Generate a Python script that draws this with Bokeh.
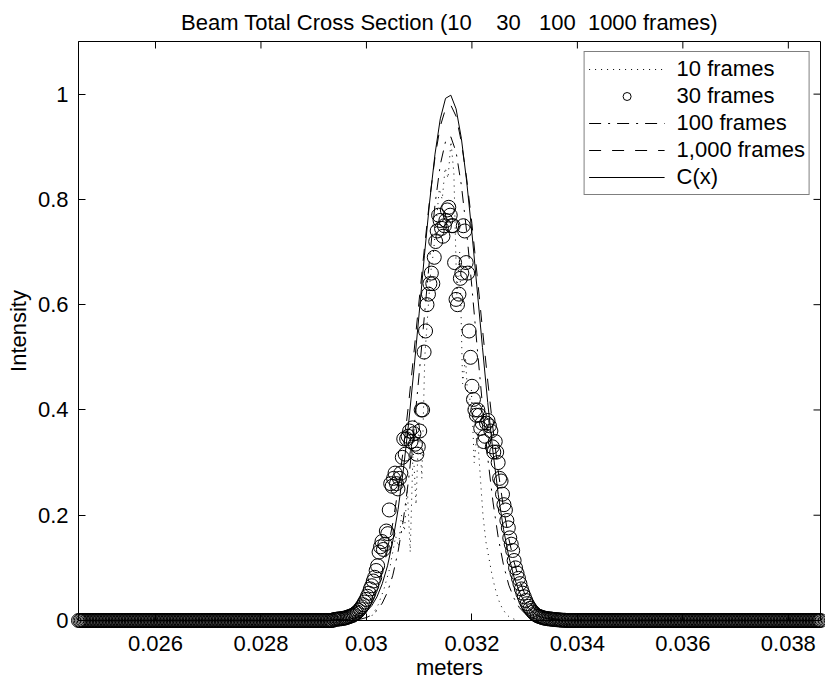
import numpy as np
from bokeh.plotting import figure
from bokeh.models import FixedTicker, Range1d, Legend, LegendItem
from bokeh.embed import file_html
from bokeh.resources import INLINE

NB = "\u00a0"
title_text = "Beam Total Cross Section (10" + NB * 3 + " 30" + NB * 2 + " 100" + NB + " 1000 frames)"
x_label = "meters"
y_label = "Intensity"
x_start, x_end = 0.02454, 0.03861
y_start, y_end = 0.0, 1.1
x_ticks = [0.026, 0.028, 0.03, 0.032, 0.034, 0.036, 0.038]
x_tick_labels = ["0.026", "0.028", "0.03", "0.032", "0.034", "0.036", "0.038"]
y_ticks = [0.0, 0.2, 0.4, 0.6, 0.8, 1.0]
y_tick_labels = ["0", "0.2", "0.4", "0.6", "0.8", "1"]
legend_labels = ["10 frames", "30 frames", "100 frames", "1,000 frames", "C(x)"]

# 30 frames (circles): 512-sample detector grid, samples 176..335, zero elsewhere
n30 = 512
x30 = np.linspace(x_start, x_end, n30)
frames30_core = [
    0.002, 0.002, 0.0025, 0.003, 0.003, 0.0035, 0.004, 0.0045, 0.005, 0.006,
    0.007, 0.008, 0.009, 0.010, 0.012, 0.014, 0.016, 0.019, 0.022, 0.026,
    0.030, 0.035, 0.040, 0.046, 0.052, 0.060, 0.066, 0.075, 0.082, 0.095,
    0.104, 0.13, 0.14, 0.15, 0.135, 0.145, 0.17, 0.165, 0.21, 0.26,
    0.255, 0.27, 0.28, 0.26, 0.25, 0.27, 0.28, 0.31, 0.345, 0.316,
    0.345, 0.35, 0.36, 0.34, 0.366, 0.355, 0.335, 0.316, 0.33, 0.36,
    0.40, 0.40, 0.51, 0.55, 0.60, 0.62, 0.64, 0.66, 0.64, 0.69,
    0.72, 0.74, 0.77, 0.76, 0.745, 0.73, 0.75, 0.76, 0.78, 0.785,
    0.77, 0.75, 0.75, 0.68, 0.61, 0.60, 0.62, 0.65, 0.66, 0.75,
    0.74, 0.68, 0.66, 0.55, 0.50, 0.445, 0.42, 0.40, 0.39, 0.40,
    0.39, 0.365, 0.375, 0.34, 0.35, 0.375, 0.38, 0.37, 0.36, 0.33,
    0.32, 0.34, 0.32, 0.30, 0.27, 0.265, 0.24, 0.22, 0.21, 0.19,
    0.176, 0.157, 0.145, 0.133, 0.114, 0.10, 0.09, 0.08, 0.07, 0.06,
    0.052, 0.045, 0.038, 0.032, 0.027, 0.023, 0.019, 0.016, 0.013, 0.011,
    0.009, 0.008, 0.007, 0.006, 0.005, 0.0045, 0.004, 0.0035, 0.003, 0.003,
    0.0025, 0.002, 0.002, 0.0015, 0.0015, 0.001, 0.001, 0.0005, 0.0005, 0.0005,
]
frames30 = [0.0] * 176 + frames30_core + [0.0] * (n30 - 176 - len(frames30_core))

# 10 frames (dotted): 256-sample grid, samples 95..150, zero elsewhere
n10 = 256
x10 = np.linspace(x_start, x_end, n10)
frames10_core = [
    0.002, 0.003, 0.004, 0.005, 0.006, 0.008, 0.01, 0.02, 0.03, 0.045,
    0.06, 0.08, 0.10, 0.13, 0.16, 0.14, 0.20, 0.17, 0.25, 0.13,
    0.33, 0.22, 0.38, 0.27, 0.50, 0.58, 0.66, 0.70, 0.76, 0.82,
    0.80, 0.86, 0.84, 0.91, 0.85, 0.62, 0.70, 0.45, 0.50, 0.40,
    0.44, 0.30, 0.36, 0.28, 0.20, 0.15, 0.12, 0.09, 0.065, 0.045,
    0.03, 0.02, 0.012, 0.007, 0.004, 0.002,
]
frames10 = [0.0] * 95 + frames10_core + [0.0] * (n10 - 95 - len(frames10_core))

# smooth traces, 0.1 mm steps from 0.0293 to 0.0338, plus the range ends
line_x = [x_start] + [round(0.0293 + 0.0001 * k, 4) for k in range(46)] + [x_end]
frames100 = [0.0,
    0.0, 0.0, 0.0, 0.0, 0.0, 0.0014, 0.0029, 0.0056, 0.0105, 0.019,
    0.033, 0.054, 0.086, 0.131, 0.191, 0.268, 0.362, 0.469, 0.580, 0.690,
    0.790, 0.866, 0.910, 0.919, 0.890, 0.827, 0.739, 0.633, 0.519, 0.409,
    0.309, 0.225, 0.157, 0.105, 0.067, 0.042, 0.0245, 0.0139, 0.0075, 0.0039,
    0.002, 0.0, 0.0, 0.0, 0.0, 0.0,
    0.0]
frames1000 = [0.0,
    0.0006, 0.001, 0.002, 0.0035, 0.006, 0.010, 0.017, 0.027, 0.042, 0.064,
    0.093, 0.134, 0.185, 0.249, 0.325, 0.412, 0.508, 0.609, 0.708, 0.801,
    0.880, 0.939, 0.972, 0.979, 0.958, 0.909, 0.840, 0.754, 0.655, 0.554,
    0.455, 0.364, 0.283, 0.213, 0.155, 0.111, 0.077, 0.051, 0.033, 0.021,
    0.013, 0.008, 0.0045, 0.0025, 0.0014, 0.0007,
    0.0]
c_of_x = [0.0,
    0.0002, 0.0004, 0.0008, 0.0016, 0.0031, 0.0056, 0.010, 0.017, 0.028, 0.045,
    0.070, 0.104, 0.151, 0.211, 0.286, 0.375, 0.476, 0.584, 0.694, 0.797,
    0.886, 0.953, 0.992, 0.998, 0.972, 0.916, 0.835, 0.737, 0.628, 0.519,
    0.414, 0.320, 0.239, 0.173, 0.121, 0.082, 0.054, 0.034, 0.021, 0.012,
    0.007, 0.004, 0.002, 0.001, 0.0005, 0.0002,
    0.0]

FONT = "Liberation Sans"
FS = "22px"
INK = "#000000"

p = figure(width=825, height=682, output_backend="svg", toolbar_location=None,
           x_range=Range1d(x_start, x_end), y_range=Range1d(y_start, y_end),
           min_border_left=78, min_border_right=5, min_border_top=41, min_border_bottom=62,
           title=title_text)
p.title.text_font = FONT
p.title.text_font_size = FS
p.title.text_font_style = "normal"
p.title.align = "center"
p.title.text_color = INK
p.title.standoff = 14
p.grid.visible = False
p.outline_line_color = INK
p.outline_line_alpha = 1.0
p.background_fill_color = "white"
p.border_fill_color = "white"

for ax, ticks, labels in ((p.xaxis[0], x_ticks, x_tick_labels), (p.yaxis[0], y_ticks, y_tick_labels)):
    ax.ticker = FixedTicker(ticks=ticks)
    ax.major_label_overrides = dict(zip(ticks, labels))
    ax.major_label_text_font = FONT
    ax.major_label_text_font_size = FS
    ax.major_label_text_color = INK
    ax.axis_label_text_font = FONT
    ax.axis_label_text_font_size = FS
    ax.axis_label_text_font_style = "normal"
    ax.axis_label_text_color = INK
    ax.major_tick_in = 7
    ax.major_tick_out = 0
    ax.minor_tick_line_color = None
    ax.axis_line_color = INK
    ax.major_tick_line_color = INK

p.xaxis.axis_label = x_label
p.yaxis.axis_label = y_label
p.xaxis.major_label_standoff = 15
p.xaxis.axis_label_standoff = 1
p.yaxis.major_label_standoff = 10
p.yaxis.axis_label_standoff = 4

# inward ticks on the top and right edges of the box (outer half clipped by the frame)
p.scatter(x_ticks, [y_end] * len(x_ticks), marker="dash", angle=np.pi / 2, size=14,
          line_color=INK, line_width=1)
p.scatter([x_end] * len(y_ticks), y_ticks, marker="dash", size=14,
          line_color=INK, line_width=1)

r10 = p.line(x10, frames10, line_color=INK, line_width=1, line_dash="1 5")
r30 = p.scatter(x30, frames30, marker="circle", size=14, fill_color=None,
                line_color=INK, line_width=1, level="overlay")
r100 = p.line(line_x, frames100, line_color=INK, line_width=1, line_dash="12 7 2 7")
r1000 = p.line(line_x, frames1000, line_color=INK, line_width=1, line_dash="12 11")
rc = p.line(line_x, c_of_x, line_color=INK, line_width=1)

legend = Legend(items=[LegendItem(label=l, renderers=[r]) for l, r in
                       zip(legend_labels, [r10, r30, r100, r1000, rc])],
                location="top_right", margin=10, padding=4, spacing=1,
                glyph_width=76, glyph_height=20, label_height=20, label_standoff=12,
                label_text_font=FONT, label_text_font_size=FS, label_text_color=INK,
                border_line_color=INK, border_line_width=1, background_fill_alpha=1.0)
p.add_layout(legend)

open("out.html", "w").write(file_html(p, INLINE))
